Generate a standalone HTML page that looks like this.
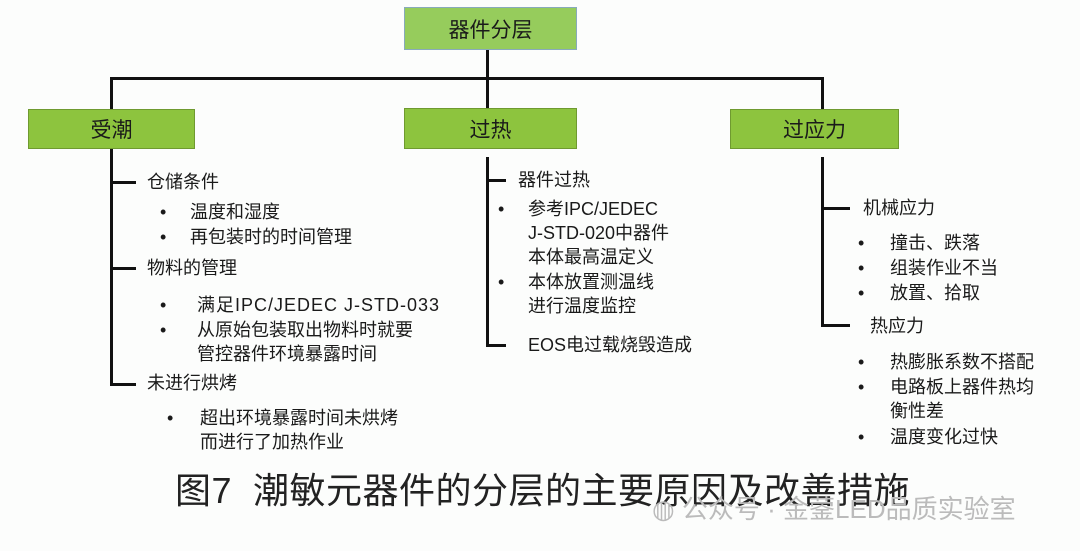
<!DOCTYPE html>
<html><head><meta charset="utf-8"><style>
body{margin:0;width:1080px;height:551px;background:#fcfdfc;position:relative;overflow:hidden;font-family:"Liberation Sans","Noto Sans CJK SC",sans-serif;color:#1a1a1a}
.b{position:absolute;background:#8dc43e;border:1px solid #6f9a30;box-sizing:border-box;display:flex;align-items:center;justify-content:center;font-size:21px}
.l{position:absolute;background:#111}
.t{position:absolute;font-size:18px;line-height:24px;white-space:nowrap}
</style></head><body>
<div class="b" style="left:404px;top:7px;width:173px;height:43px;background:#96cc5c;border-color:#8ab;">器件分层</div>
<div class="l" style="left:486px;top:50px;width:3px;height:59px"></div>
<div class="l" style="left:110px;top:77px;width:714px;height:3px"></div>
<div class="l" style="left:110px;top:77px;width:3px;height:32px"></div>
<div class="l" style="left:821px;top:77px;width:3px;height:32px"></div>
<div class="b" style="left:28px;top:109px;width:167px;height:40px">受潮</div>
<div class="b" style="left:404px;top:108px;width:173px;height:41px">过热</div>
<div class="b" style="left:730px;top:109px;width:169px;height:40px">过应力</div>

<div class="l" style="left:110px;top:149px;width:3px;height:237px"></div>
<div class="l" style="left:110px;top:181px;width:26px;height:3px"></div>
<div class="l" style="left:110px;top:267px;width:26px;height:3px"></div>
<div class="l" style="left:110px;top:383px;width:26px;height:3px"></div>
<div class="t" style="left:147px;top:170px">仓储条件</div>
<div class="t" style="left:160px;top:200px">•</div><div class="t" style="left:190px;top:200px">温度和湿度</div>
<div class="t" style="left:160px;top:225px">•</div><div class="t" style="left:190px;top:225px">再包装时的时间管理</div>
<div class="t" style="left:147px;top:256px">物料的管理</div>
<div class="t" style="left:160px;top:293px">•</div><div class="t" style="left:197px;top:293px;letter-spacing:1px">满足IPC/JEDEC J-STD-033</div>
<div class="t" style="left:160px;top:318px">•</div><div class="t" style="left:197px;top:318px">从原始包装取出物料时就要<br>管控器件环境暴露时间</div>
<div class="t" style="left:147px;top:371px">未进行烘烤</div>
<div class="t" style="left:167px;top:406px">•</div><div class="t" style="left:200px;top:406px">超出环境暴露时间未烘烤<br>而进行了加热作业</div>

<div class="l" style="left:486px;top:157px;width:3px;height:190px"></div>
<div class="l" style="left:486px;top:179px;width:20px;height:3px"></div>
<div class="l" style="left:486px;top:344px;width:20px;height:3px"></div>
<div class="t" style="left:518px;top:168px">器件过热</div>
<div class="t" style="left:498px;top:197px">•</div><div class="t" style="left:528px;top:197px">参考IPC/JEDEC<br>J-STD-020中器件<br>本体最高温定义</div>
<div class="t" style="left:498px;top:270px">•</div><div class="t" style="left:528px;top:270px">本体放置测温线<br>进行温度监控</div>
<div class="t" style="left:528px;top:333px">EOS电过载烧毁造成</div>

<div class="l" style="left:821px;top:157px;width:3px;height:170px"></div>
<div class="l" style="left:821px;top:207px;width:29px;height:3px"></div>
<div class="l" style="left:821px;top:324px;width:29px;height:3px"></div>
<div class="t" style="left:863px;top:196px">机械应力</div>
<div class="t" style="left:858px;top:231px">•</div><div class="t" style="left:890px;top:231px">撞击、跌落</div>
<div class="t" style="left:858px;top:256px">•</div><div class="t" style="left:890px;top:256px">组装作业不当</div>
<div class="t" style="left:858px;top:281px">•</div><div class="t" style="left:890px;top:281px">放置、拾取</div>
<div class="t" style="left:870px;top:314px">热应力</div>
<div class="t" style="left:858px;top:350px">•</div><div class="t" style="left:890px;top:350px">热膨胀系数不搭配</div>
<div class="t" style="left:858px;top:375px">•</div><div class="t" style="left:890px;top:375px">电路板上器件热均<br>衡性差</div>
<div class="t" style="left:858px;top:425px">•</div><div class="t" style="left:890px;top:425px">温度变化过快</div>

<div class="t" style="left:175px;top:470px;font-size:36px;line-height:42px;color:#222;letter-spacing:0.5px">图7&nbsp; 潮敏元器件的分层的主要原因及改善措施</div>
<div class="t" style="left:652px;top:494px;font-size:26px;line-height:30px;color:#bbb">◍ 公众号 · 金蓥LED品质实验室</div>
</body></html>
